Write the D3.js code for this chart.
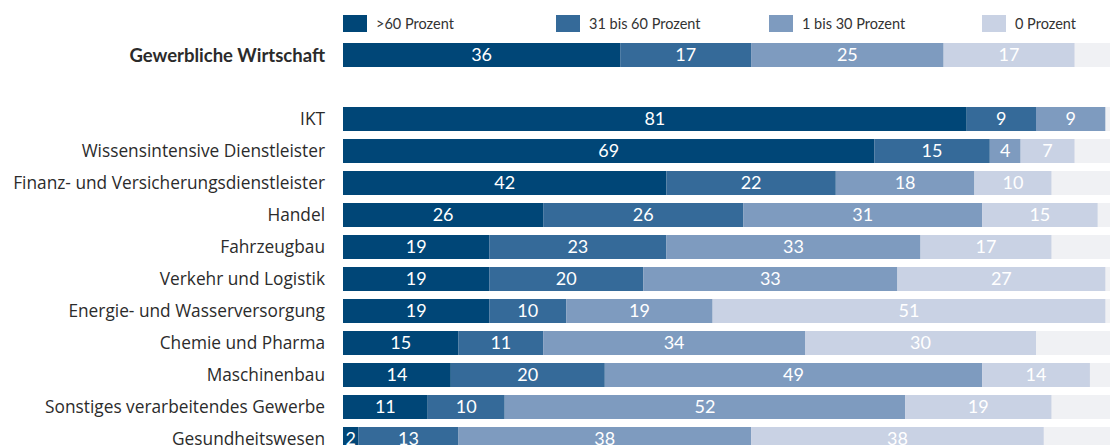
<!DOCTYPE html>
<html>
<head>
<meta charset="utf-8">
<script src="https://cdn.jsdelivr.net/npm/d3@7"></script>
<style>
  html, body { margin: 0; padding: 0; background: #fff; }
  svg { display: block; font-family: Lato, "Open Sans", sans-serif; }
</style>
</head>
<body>
<svg id="chart" width="1110" height="445"></svg>
<script>
// Share of employees (in percent groups) per sector
const seriesNames = [">60 Prozent", "31 bis 60 Prozent", "1 bis 30 Prozent", "0 Prozent"];
const seriesColors = ["#004677", "#356a99", "#7e9bbf", "#c9d2e4"];

const categories = [
  "Gewerbliche Wirtschaft",
  "",
  "IKT",
  "Wissensintensive Dienstleister",
  "Finanz- und Versicherungsdienstleister",
  "Handel",
  "Fahrzeugbau",
  "Verkehr und Logistik",
  "Energie- und Wasserversorgung",
  "Chemie und Pharma",
  "Maschinenbau",
  "Sonstiges verarbeitendes Gewerbe",
  "Gesundheitswesen"
];

const over60     = [36, null, 81, 69, 42, 26, 19, 19, 19, 15, 14, 11, 2];
const from31to60 = [17, null, 9, 15, 22, 26, 23, 20, 10, 11, 20, 10, 13];
const from1to30  = [25, null, 9, 4, 18, 31, 33, 33, 19, 34, 49, 52, 38];
const zero       = [17, null, 0, 7, 10, 15, 17, 27, 51, 30, 14, 19, 38];

const seriesValues = [over60, from31to60, from1to30, zero];

const svg = d3.select("#chart");
const left = 343;

const x = d3.scaleLinear().domain([0, 100]).range([left, 1113]);
const y = d3.scaleBand()
  .domain(d3.range(categories.length))
  .range([39, 39 + 32 * categories.length])
  .paddingInner(0.25)
  .paddingOuter(0.125);

// legend
const legend = svg.append("g");
seriesNames.forEach((name, i) => {
  const lx = left + i * 213;
  legend.append("rect")
    .attr("x", lx).attr("y", 15)
    .attr("width", 24).attr("height", 17)
    .attr("fill", seriesColors[i]);
  legend.append("text")
    .attr("x", lx + 33).attr("y", 29)
    .attr("font-size", 14.5)
    .attr("fill", "#333")
    .text(name);
});

const rows = categories.map((c, i) => ({
  name: c,
  index: i,
  values: seriesValues.map(s => s[i])
})).filter(r => r.name !== "");

const row = svg.append("g").selectAll("g.row")
  .data(rows).join("g")
  .attr("class", "row")
  .attr("transform", d => `translate(0,${y(d.index)})`);

// light background track
row.append("rect")
  .attr("x", x(0)).attr("y", 0)
  .attr("width", x(100) - x(0))
  .attr("height", y.bandwidth())
  .attr("fill", "#f0f1f4");

// category labels (total row in bold)
row.append("text")
  .attr("x", left - 18)
  .attr("y", y.bandwidth() / 2)
  .attr("dy", "0.36em")
  .attr("text-anchor", "end")
  .attr("font-family", d => d.index === 0 ? "Lato, sans-serif" : "'Open Sans', sans-serif")
  .attr("font-size", d => d.index === 0 ? 18.5 : 17.3)
  .attr("font-weight", d => d.index === 0 ? 700 : 400)
  .attr("fill", "#2b2b2b")
  .text(d => d.name);

// stacked segments with value labels
row.each(function(d) {
  const g = d3.select(this);
  let acc = 0;
  d.values.forEach((v, k) => {
    if (v == null) return;
    const x0 = x(acc), x1 = x(acc + v);
    acc += v;
    if (v <= 0) return;
    g.append("rect")
      .attr("x", x0).attr("y", 0)
      .attr("width", x1 - x0)
      .attr("height", y.bandwidth())
      .attr("fill", seriesColors[k]);
    g.append("text")
      .attr("x", (x0 + x1) / 2)
      .attr("y", y.bandwidth() / 2)
      .attr("dy", "0.36em")
      .attr("text-anchor", "middle")
      .attr("font-size", 18)
      .attr("fill", "#fff")
      .text(v);
  });
});
</script>
</body>
</html>
